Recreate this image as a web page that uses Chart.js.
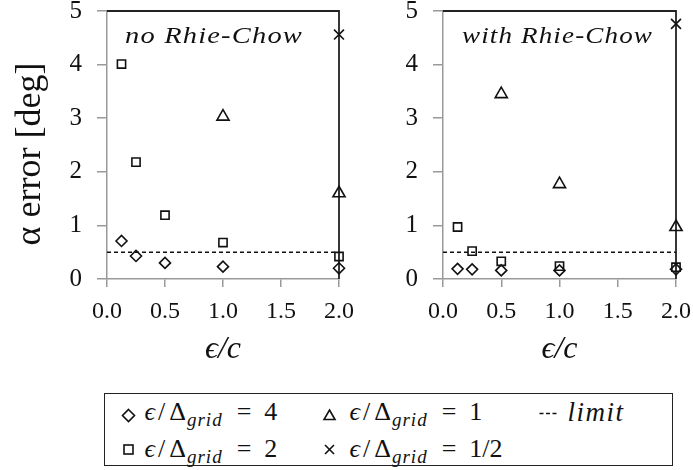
<!DOCTYPE html>
<html>
<head>
<meta charset="utf-8">
<script src="https://cdn.jsdelivr.net/npm/chart.js@4/dist/chart.umd.min.js"></script>
<style>
html,body{margin:0;padding:0;background:#fff;}
body{width:693px;height:470px;position:relative;overflow:hidden;font-family:"Liberation Serif","DejaVu Serif",serif;color:#111;}
#c1{position:absolute;left:0;top:0;}
#c2{position:absolute;left:345px;top:0;}
#legend{position:absolute;left:104px;top:393px;width:567px;height:71px;border:1.5px solid #222;}
#legend svg{position:absolute;left:0;top:0;}
.item{position:absolute;font-size:26px;white-space:nowrap;line-height:26px;}
.item i{font-style:italic;}
.item sub{font-size:19px;vertical-align:-6px;line-height:0;font-style:italic;letter-spacing:1px;}
.item .eq{margin:0 13px 0 14px;}
.item .sl{margin:0 3px;}
.item .D{margin:0 1px 0 1px;}
.item .lim{font-style:italic;font-size:27px;letter-spacing:1.5px;}
</style>
</head>
<body>
<canvas id="c1" width="360" height="380"></canvas>
<canvas id="c2" width="348" height="380"></canvas>
<div id="legend">
  <svg width="567" height="71">
    <g fill="none" stroke="#111" stroke-width="1.6">
      <polygon points="23.5,15.5 29.5,21.5 23.5,27.5 17.5,21.5"/>
      <rect x="19" y="51" width="9" height="9"/>
      <polygon points="224.5,16 230,25.5 219,25.5"/>
      <line x1="220" y1="51" x2="229" y2="60"/>
      <line x1="229" y1="51" x2="220" y2="60"/>
      <line x1="434.5" y1="19.5" x2="451.5" y2="19.5" stroke-dasharray="4,2.5" stroke-width="1.5"/>
    </g>
  </svg>
  <span class="item" style="left:39.5px;top:4.7px"><i>ϵ</i><span class="sl">/</span><span class="D">Δ</span><sub>grid</sub><span class="eq">=</span>4</span>
  <span class="item" style="left:39.5px;top:41.7px"><i>ϵ</i><span class="sl">/</span><span class="D">Δ</span><sub>grid</sub><span class="eq">=</span>2</span>
  <span class="item" style="left:244.5px;top:4.7px"><i>ϵ</i><span class="sl">/</span><span class="D">Δ</span><sub>grid</sub><span class="eq">=</span>1</span>
  <span class="item" style="left:244.5px;top:41.7px"><i>ϵ</i><span class="sl">/</span><span class="D">Δ</span><sub>grid</sub><span class="eq">=</span>1/2</span>
  <span class="item" style="left:462.5px;top:4.7px"><span class="lim">limit</span></span>
</div>
<script>
// ---- data ----
const xValues = [0.125, 0.25, 0.5, 1.0, 2.0];
const xTicks = [0, 0.5, 1.0, 1.5, 2.0];
const yTicks = [0, 1, 2, 3, 4, 5];
const limitValue = 0.5;

const noRC_grid4    = [0.71, 0.43, 0.30, 0.23, 0.20];
const noRC_grid2    = [4.01, 2.18, 1.19, 0.68, 0.42];
const noRC_grid1    = [null, null, null, 3.03, 1.60];
const noRC_gridHalf = [null, null, null, null, 4.56];

const withRC_grid4    = [0.19, 0.18, 0.16, 0.16, 0.18];
const withRC_grid2    = [0.97, 0.52, 0.33, 0.24, 0.22];
const withRC_grid1    = [null, null, 3.45, 1.77, 0.97];
const withRC_gridHalf = [null, null, null, null, 4.76];

const seriesLabels = ['ϵ/Δgrid = 4', 'ϵ/Δgrid = 2', 'ϵ/Δgrid = 1', 'ϵ/Δgrid = 1/2'];
const pointStyles = ['rectRot', 'rect', 'triangle', 'crossRot'];
const pointRadii = [5.5, 5.8, 7, 7];

function pts(ys) {
  return xValues.map((x, i) => ({x: x, y: ys[i]})).filter(p => p.y !== null);
}

function buildDatasets(seriesList) {
  const ds = seriesList.map((ys, k) => ({
    type: 'scatter',
    label: seriesLabels[k],
    data: pts(ys),
    pointStyle: pointStyles[k],
    pointRadius: pointRadii[k],
    pointBorderColor: '#111',
    pointBackgroundColor: 'rgba(0,0,0,0)',
    pointBorderWidth: 1.6,
    showLine: false,
    clip: false,
    order: 1
  }));
  ds.push({
    type: 'line',
    label: 'limit',
    data: [{x: xTicks[0], y: limitValue}, {x: xTicks[xTicks.length - 1], y: limitValue}],
    borderColor: '#111',
    borderWidth: 1.5,
    borderDash: [4, 3],
    pointRadius: 0,
    fill: false,
    clip: false,
    order: 5
  });
  return ds;
}

const framePlugin = {
  id: 'frame',
  beforeDatasetsDraw(chart) {
    const ctx = chart.ctx, a = chart.chartArea;
    ctx.save();
    ctx.strokeStyle = '#222';
    ctx.lineWidth = 1.8;
    ctx.beginPath();
    ctx.moveTo(a.left, a.top);
    ctx.lineTo(a.right, a.top);
    ctx.lineTo(a.right, a.bottom);
    ctx.stroke();
    ctx.restore();
  }
};

const labelPlugin = {
  id: 'panelLabel',
  afterDraw(chart, args, opts) {
    const ctx = chart.ctx;
    ctx.save();
    ctx.font = 'italic 24px "Liberation Serif", "DejaVu Serif", serif';
    ctx.fillStyle = '#111';
    ctx.textBaseline = 'alphabetic';
    ctx.letterSpacing = '1px';
    const w = ctx.measureText(opts.text).width;
    const sx = opts.width / w;
    ctx.translate(opts.x, 43);
    ctx.scale(sx, 1);
    ctx.fillText(opts.text, 0, 0);
    ctx.restore();
  }
};

const serif = '"Liberation Serif", "DejaVu Serif", serif';

function makeChart(id, seriesList, cfg) {
  return new Chart(document.getElementById(id), {
    type: 'scatter',
    data: {datasets: buildDatasets(seriesList)},
    options: {
      responsive: false,
      animation: false,
      events: [],
      devicePixelRatio: 1,
      layout: {padding: {left: 0, top: 11, right: cfg.padRight, bottom: 11}},
      plugins: {
        legend: {display: false},
        tooltip: {enabled: false},
        panelLabel: {text: cfg.label, x: cfg.labelX, width: cfg.labelW}
      },
      scales: {
        x: {
          type: 'linear',
          min: xTicks[0],
          max: xTicks[xTicks.length - 1],
          afterBuildTicks: s => { s.ticks = xTicks.map(v => ({value: v})); },
          ticks: {
            callback: v => Number(v).toFixed(1),
            font: {family: serif, size: 24},
            color: '#111',
            padding: 10,
            maxRotation: 0,
            autoSkip: false
          },
          grid: {drawOnChartArea: false, drawTicks: true, tickLength: 8, color: '#999', lineWidth: 1.5},
          border: {display: true, color: '#999', width: 1.5},
          title: {
            display: true,
            text: 'ϵ/c',
            font: {family: serif, size: 32, style: 'italic'},
            color: '#111',
            padding: {top: 0, bottom: 0}
          },
          afterFit: s => { s.height = 90; s.paddingLeft = 0; s.paddingRight = 0; }
        },
        y: {
          type: 'linear',
          min: yTicks[0],
          max: yTicks[yTicks.length - 1],
          afterBuildTicks: s => { s.ticks = yTicks.map(v => ({value: v})); },
          ticks: {
            callback: v => String(v),
            font: {family: serif, size: 25},
            color: '#111',
            padding: 15
          },
          grid: {drawOnChartArea: false, drawTicks: true, tickLength: 10, color: '#999', lineWidth: 1.5},
          border: {display: true, color: '#999', width: 1.5},
          title: {
            display: cfg.yTitle,
            text: 'α error [deg]\u2002',
            font: {family: serif, size: 36},
            color: '#111',
            padding: {top: 9, bottom: 0}
          },
          afterFit: s => { s.width = cfg.yWidth; s.paddingTop = 0; s.paddingBottom = 0; }
        }
      }
    },
    plugins: [framePlugin, labelPlugin]
  });
}

makeChart('c1', [noRC_grid4, noRC_grid2, noRC_grid1, noRC_gridHalf],
  {padRight: 21, yWidth: 107, yTitle: true, label: 'no Rhie-Chow', labelX: 125, labelW: 178});
makeChart('c2', [withRC_grid4, withRC_grid2, withRC_grid1, withRC_gridHalf],
  {padRight: 17, yWidth: 98, yTitle: false, label: 'with Rhie-Chow', labelX: 117, labelW: 191});
</script>
</body>
</html>
